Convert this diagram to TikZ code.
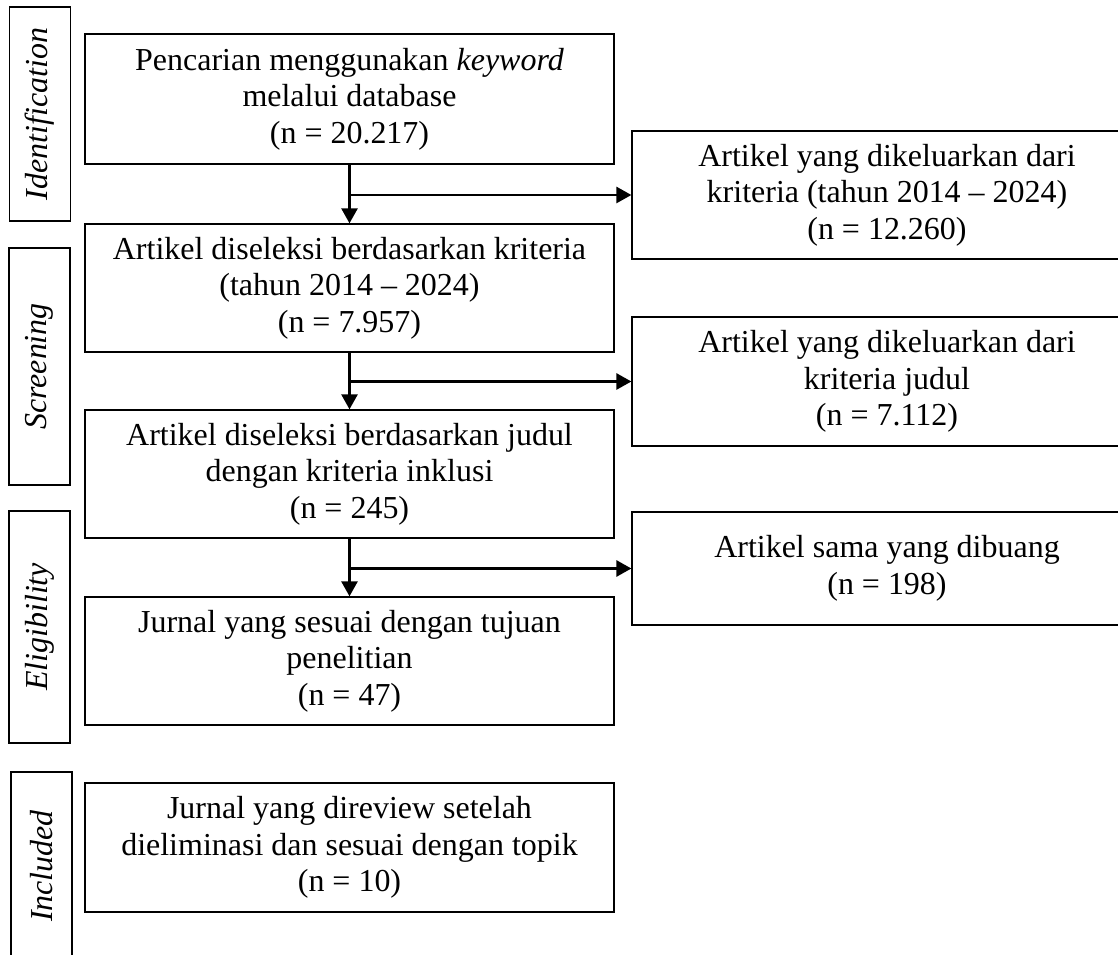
\documentclass[tikz,border=0pt]{standalone}
\usepackage{fontspec}
\setmainfont{Liberation Serif}
\usetikzlibrary{arrows.meta}
\tikzset{
  box/.style={draw,line width=.75pt,inner sep=0pt,align=center,minimum width=10.58cm,font=\fontsize{18.2}{20.8}\selectfont,execute at begin node={\rule{0pt}{18pt}}},
  side/.style={box,minimum width=10.2cm},
  phase/.style={draw,line width=.75pt,inner sep=0pt,rotate=90,minimum height=1.22cm,font=\fontsize{18.2}{20.8}\selectfont\itshape},
  arr/.style={line width=1.5pt,-{Triangle[width=.32cm,length=.3cm]}}
}
\begin{document}
\begin{tikzpicture}[x=.02cm,y=-.02cm]
      \clip (0,0) rectangle (1118,955);
      \node[box,minimum height=2.6cm] (b1) at (349.5,99) {Pencarian menggunakan \textit{keyword}\\melalui database\\(n = 20.217)};
      \node[box,minimum height=2.56cm] (b2) at (349.5,288) {Artikel diseleksi berdasarkan kriteria\\(tahun 2014 – 2024)\\(n = 7.957)};
      \node[box,minimum height=2.56cm] (b3) at (349.5,474) {Artikel diseleksi berdasarkan judul\\dengan kriteria inklusi\\(n = 245)};
      \node[box,minimum height=2.56cm] (b4) at (349.5,661) {Jurnal yang sesuai dengan tujuan\\penelitian\\(n = 47)};
      \node[box,minimum height=2.58cm] (b5) at (349.5,847.5) {Jurnal yang direview setelah\\dieliminasi dan sesuai dengan topik\\(n = 10)};
      \node[side,minimum height=2.56cm] (r1) at (887,195) {Artikel yang dikeluarkan dari\\kriteria (tahun 2014 – 2024)\\(n = 12.260)};
      \node[side,minimum height=2.58cm] (r2) at (887,381.5) {Artikel yang dikeluarkan dari\\kriteria judul\\(n = 7.112)};
      \node[side,minimum height=2.26cm] (r3) at (887,568.5) {Artikel sama yang dibuang\\(n = 198)};
      \node[phase,minimum width=4.28cm] (id) at (40,114) {Identification};
      \node[phase,minimum width=4.74cm] (sc) at (39.5,366.5) {Screening};
      \node[phase,minimum width=4.64cm] (el) at (39.5,627) {Eligibility};
      \node[phase,minimum width=3.76cm] (in) at (41.5,866) {Included};
      \foreach \a/\b/\c in {b1/b2/r1,b2/b3/r2,b3/b4/r3}{
      \draw[arr] (\a.south) -- (\b.north);
      \draw[arr] (\a.south |- \c.west) -- (\c.west);
      }
    \end{tikzpicture}
\end{document}
